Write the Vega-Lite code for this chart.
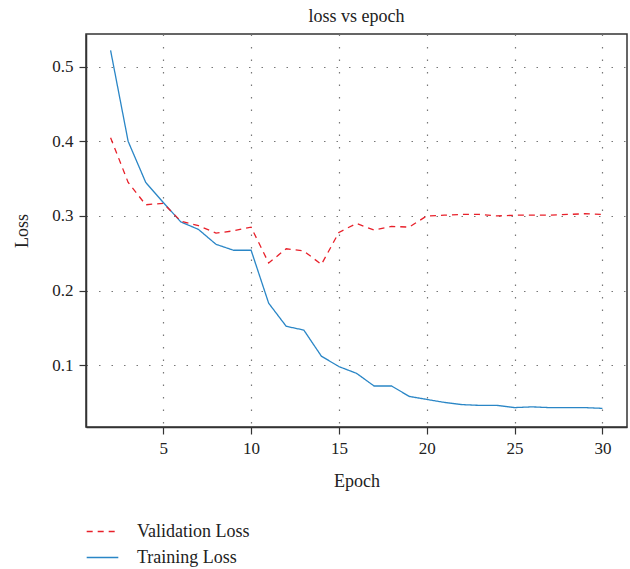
{
  "$schema": "https://vega.github.io/schema/vega-lite/v6.json",
  "autosize": "none",
  "width": 541,
  "height": 393,
  "padding": {"left": 86, "top": 34, "right": 3, "bottom": 142},
  "background": "white",
  "title": {"text": "loss vs epoch", "font": "Liberation Serif", "fontSize": 18, "fontWeight": "normal", "color": "#222", "offset": 8},
  "config": {
    "view": {"stroke": "#333", "strokeWidth": 1.5},
    "font": "Liberation Serif",
    "legend": {"labelFont": "Liberation Serif", "labelFontSize": 18},
    "axis": {"labelFont": "Liberation Serif", "titleFont": "Liberation Serif", "labelFontSize": 17, "titleFontSize": 18, "titleFontWeight": "normal", "labelColor": "#222", "titleColor": "#222", "domainColor": "#333", "domainWidth": 1.5, "tickColor": "#333", "tickSize": 7, "tickWidth": 1.2, "gridColor": "#777", "gridDash": [1.5, 11], "gridWidth": 1.2}
  },
  "data": {"values": [
    {"epoch": 2, "loss": 0.522, "series": "Training Loss"},
    {"epoch": 3, "loss": 0.400, "series": "Training Loss"},
    {"epoch": 4, "loss": 0.345, "series": "Training Loss"},
    {"epoch": 5, "loss": 0.318, "series": "Training Loss"},
    {"epoch": 6, "loss": 0.292, "series": "Training Loss"},
    {"epoch": 7, "loss": 0.282, "series": "Training Loss"},
    {"epoch": 8, "loss": 0.262, "series": "Training Loss"},
    {"epoch": 9, "loss": 0.254, "series": "Training Loss"},
    {"epoch": 10, "loss": 0.254, "series": "Training Loss"},
    {"epoch": 11, "loss": 0.183, "series": "Training Loss"},
    {"epoch": 12, "loss": 0.152, "series": "Training Loss"},
    {"epoch": 13, "loss": 0.147, "series": "Training Loss"},
    {"epoch": 14, "loss": 0.112, "series": "Training Loss"},
    {"epoch": 15, "loss": 0.098, "series": "Training Loss"},
    {"epoch": 16, "loss": 0.089, "series": "Training Loss"},
    {"epoch": 17, "loss": 0.072, "series": "Training Loss"},
    {"epoch": 18, "loss": 0.072, "series": "Training Loss"},
    {"epoch": 19, "loss": 0.058, "series": "Training Loss"},
    {"epoch": 20, "loss": 0.054, "series": "Training Loss"},
    {"epoch": 21, "loss": 0.050, "series": "Training Loss"},
    {"epoch": 22, "loss": 0.047, "series": "Training Loss"},
    {"epoch": 23, "loss": 0.046, "series": "Training Loss"},
    {"epoch": 24, "loss": 0.046, "series": "Training Loss"},
    {"epoch": 25, "loss": 0.043, "series": "Training Loss"},
    {"epoch": 26, "loss": 0.044, "series": "Training Loss"},
    {"epoch": 27, "loss": 0.043, "series": "Training Loss"},
    {"epoch": 28, "loss": 0.043, "series": "Training Loss"},
    {"epoch": 29, "loss": 0.043, "series": "Training Loss"},
    {"epoch": 30, "loss": 0.042, "series": "Training Loss"},
    {"epoch": 2, "loss": 0.405, "series": "Validation Loss"},
    {"epoch": 3, "loss": 0.345, "series": "Validation Loss"},
    {"epoch": 4, "loss": 0.315, "series": "Validation Loss"},
    {"epoch": 5, "loss": 0.317, "series": "Validation Loss"},
    {"epoch": 6, "loss": 0.293, "series": "Validation Loss"},
    {"epoch": 7, "loss": 0.287, "series": "Validation Loss"},
    {"epoch": 8, "loss": 0.277, "series": "Validation Loss"},
    {"epoch": 9, "loss": 0.280, "series": "Validation Loss"},
    {"epoch": 10, "loss": 0.285, "series": "Validation Loss"},
    {"epoch": 11, "loss": 0.237, "series": "Validation Loss"},
    {"epoch": 12, "loss": 0.256, "series": "Validation Loss"},
    {"epoch": 13, "loss": 0.253, "series": "Validation Loss"},
    {"epoch": 14, "loss": 0.235, "series": "Validation Loss"},
    {"epoch": 15, "loss": 0.278, "series": "Validation Loss"},
    {"epoch": 16, "loss": 0.290, "series": "Validation Loss"},
    {"epoch": 17, "loss": 0.281, "series": "Validation Loss"},
    {"epoch": 18, "loss": 0.286, "series": "Validation Loss"},
    {"epoch": 19, "loss": 0.285, "series": "Validation Loss"},
    {"epoch": 20, "loss": 0.300, "series": "Validation Loss"},
    {"epoch": 21, "loss": 0.301, "series": "Validation Loss"},
    {"epoch": 22, "loss": 0.302, "series": "Validation Loss"},
    {"epoch": 23, "loss": 0.302, "series": "Validation Loss"},
    {"epoch": 24, "loss": 0.300, "series": "Validation Loss"},
    {"epoch": 25, "loss": 0.301, "series": "Validation Loss"},
    {"epoch": 26, "loss": 0.301, "series": "Validation Loss"},
    {"epoch": 27, "loss": 0.301, "series": "Validation Loss"},
    {"epoch": 28, "loss": 0.302, "series": "Validation Loss"},
    {"epoch": 29, "loss": 0.303, "series": "Validation Loss"},
    {"epoch": 30, "loss": 0.302, "series": "Validation Loss"}
  ]},
  "mark": {"type": "line", "strokeWidth": 1.3, "clip": true},
  "encoding": {
    "x": {"field": "epoch", "type": "quantitative", "title": "Epoch",
      "scale": {"domain": [0.6, 31.4], "nice": false, "zero": false},
      "axis": {"values": [5, 10, 15, 20, 25, 30], "labelPadding": 6, "titlePadding": 16}},
    "y": {"field": "loss", "type": "quantitative", "title": "Loss",
      "scale": {"domain": [0.017, 0.544], "nice": false, "zero": false},
      "axis": {"values": [0.1, 0.2, 0.3, 0.4, 0.5], "format": ".1f", "labelPadding": 6, "titlePadding": 20}},
    "color": {"field": "series", "type": "nominal",
      "scale": {"domain": ["Validation Loss", "Training Loss"], "range": ["#e8202a", "#2a86c6"]},
      "legend": {"title": null, "orient": "none", "legendX": 0, "legendY": 481, "symbolType": "stroke", "symbolSize": 1000, "symbolStrokeWidth": 1.3, "labelFont": "Liberation Serif", "labelFontSize": 18, "labelColor": "#222", "labelOffset": 18, "rowPadding": -6}},
    "strokeDash": {"field": "series", "type": "nominal",
      "scale": {"domain": ["Validation Loss", "Training Loss"], "range": [[6, 5], [1, 0]]},
      "legend": null}
  }
}
